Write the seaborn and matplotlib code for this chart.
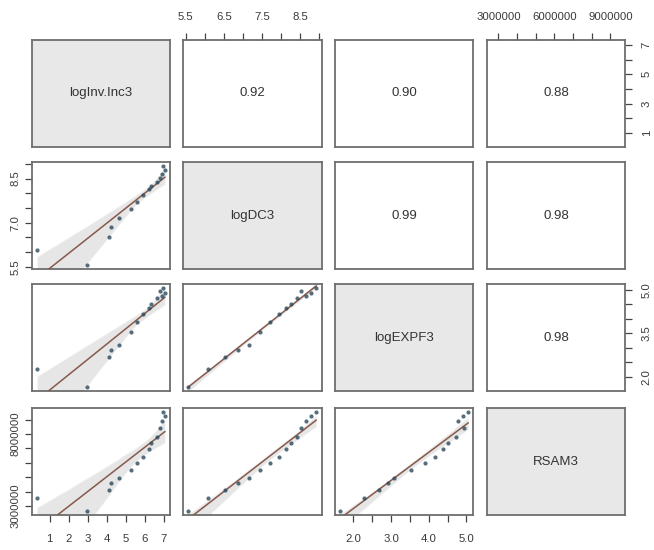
import numpy as np
import pandas as pd
import matplotlib
matplotlib.use("Agg")
import matplotlib.pyplot as plt
from matplotlib.collections import PolyCollection
import seaborn as sns

# ---------------- data ----------------
variables = ["logInv.Inc3", "logDC3", "logEXPF3", "RSAM3"]
log_inv_inc3 = [2.96, 0.33, 4.14, 4.25, 4.63, 5.30, 5.60, 5.89, 6.21, 6.32, 6.67, 6.79, 6.93, 7.07, 6.96]
log_dc3 = [5.56, 6.07, 6.52, 6.87, 7.15, 7.45, 7.71, 7.94, 8.13, 8.26, 8.40, 8.53, 8.66, 8.79, 8.92]
log_expf3 = [1.65, 2.28, 2.68, 2.93, 3.08, 3.53, 3.89, 4.17, 4.37, 4.50, 4.72, 4.94, 4.77, 4.90, 5.05]
rsam3 = [2650000, 3540000, 4110000, 4610000, 4950000, 5470000, 5960000, 6410000,
         6930000, 7410000, 7820000, 8440000, 8940000, 9280000, 9520000]

corr_labels = ["0.92", "0.90", "0.88", "0.99", "0.98", "0.98"]  # upper panels, row-wise

# tick positions and labels for each variable / side
inv_ticks = [1, 2, 3, 4, 5, 6, 7]
inv_bottom_labels = ["1", "2", "3", "4", "5", "6", "7"]
inv_right_labels = ["1", "", "3", "", "5", "", "7"]
dc_ticks = [5.5, 6.0, 6.5, 7.0, 7.5, 8.0, 8.5, 9.0]
dc_top_labels = ["5.5", "", "6.5", "", "7.5", "", "8.5", ""]
dc_left_labels = ["5.5", "", "", "7.0", "", "", "8.5", ""]
expf_ticks = [2.0, 2.5, 3.0, 3.5, 4.0, 4.5, 5.0]
expf_bottom_labels = ["2.0", "", "3.0", "", "4.0", "", "5.0"]
expf_right_labels = ["2.0", "", "", "3.5", "", "", "5.0"]
rsam_ticks = [3000000, 4000000, 5000000, 6000000, 7000000, 8000000, 9000000]
rsam_top_labels = ["3000000", "", "", "6000000", "", "", "9000000"]
rsam_left_labels = ["3000000", "", "", "", "", "8000000", ""]

df = pd.DataFrame({variables[0]: log_inv_inc3, variables[1]: log_dc3,
                   variables[2]: log_expf3, variables[3]: rsam3})

# ---------------- style ----------------
sns.set_style("white")
plt.rcParams["font.family"] = ["Liberation Sans", "DejaVu Sans"]

W, H = 654, 550
fig = plt.figure(figsize=(W / 100, H / 100), dpi=100)
fig.patch.set_facecolor("white")

col_left = [31.7, 183.0, 335.0, 486.7]
row_top = [40.0, 162.3, 284.3, 408.3]
pw, ph = 138.5, 106.7

frame_col = "#6e6e6e"
pt_col = "#2c4a5c"
line_col = "#86594a"
diag_fill = "#e8e8e8"
txt_col = "#333333"

def lims(v):
    lo, hi = min(v), max(v)
    pad = 0.04 * (hi - lo)
    return lo - pad, hi + pad

n = len(variables)
axes = [[None] * n for _ in range(n)]
for i in range(n):
    for j in range(n):
        ax = fig.add_axes([col_left[j] / W, 1 - (row_top[i] + ph) / H, pw / W, ph / H])
        axes[i][j] = ax
        for s in ax.spines.values():
            s.set_color(frame_col)
            s.set_linewidth(1.3)
            s.set_visible(True)

k = 0
for i in range(n):
    for j in range(n):
        ax = axes[i][j]
        xv, yv = variables[j], variables[i]
        if i == j:
            ax.set_facecolor(diag_fill)
            ax.text(0.5, 0.5, variables[i], transform=ax.transAxes, ha="center",
                    va="center", fontsize=9.5, color=txt_col)
        elif i < j:
            ax.text(0.5, 0.5, corr_labels[k], transform=ax.transAxes, ha="center",
                    va="center", fontsize=9.5, color=txt_col)
            k += 1
        else:
            sns.regplot(data=df, x=xv, y=yv, ax=ax, ci=95, n_boot=1000, seed=3,
                        truncate=True,
                        scatter_kws=dict(s=9, color=pt_col, linewidths=0, zorder=4),
                        line_kws=dict(color=line_col, lw=1.1, zorder=3))
            for c in ax.collections:
                if isinstance(c, PolyCollection):
                    c.set_facecolor("#cfcfcf")
                    c.set_alpha(0.5)
                    c.set_zorder(1)
        ax.set_xlim(*lims(df[xv]))
        ax.set_ylim(*lims(df[yv]))
        ax.set_xlabel("")
        ax.set_ylabel("")
        ax.set_xticks([])
        ax.set_yticks([])

tick_kw = dict(length=5, width=0.9, color="#444444", labelcolor="#3a3a3a", labelsize=8.2, direction="out")

# column axes: col0 bottom, col1 top, col2 bottom, col3 top
ax = axes[3][0]
ax.set_xticks(inv_ticks); ax.set_xticklabels(inv_bottom_labels)
ax.tick_params(axis="x", bottom=True, pad=9, **tick_kw)
ax = axes[0][1]
ax.xaxis.set_ticks_position("top")
ax.set_xticks(dc_ticks); ax.set_xticklabels(dc_top_labels)
ax.tick_params(axis="x", top=True, bottom=False, labeltop=True, labelbottom=False, pad=8, **tick_kw)
ax = axes[3][2]
ax.set_xticks(expf_ticks); ax.set_xticklabels(expf_bottom_labels)
ax.tick_params(axis="x", bottom=True, pad=9, **tick_kw)
ax = axes[0][3]
ax.xaxis.set_ticks_position("top")
ax.set_xticks(rsam_ticks); ax.set_xticklabels(rsam_top_labels)
ax.tick_params(axis="x", top=True, bottom=False, labeltop=True, labelbottom=False, pad=8, **tick_kw)

# row axes: row0 right, row1 left, row2 right, row3 left
ax = axes[0][3]
ax.yaxis.set_ticks_position("right")
ax.set_yticks(inv_ticks); ax.set_yticklabels(inv_right_labels, rotation=90, va="center")
ax.tick_params(axis="y", right=True, left=False, labelright=True, labelleft=False, pad=7, **tick_kw)
ax = axes[1][0]
ax.set_yticks(dc_ticks); ax.set_yticklabels(dc_left_labels, rotation=90, va="center")
ax.tick_params(axis="y", left=True, pad=3, **tick_kw)
ax = axes[2][3]
ax.yaxis.set_ticks_position("right")
ax.set_yticks(expf_ticks); ax.set_yticklabels(expf_right_labels, rotation=90, va="center")
ax.tick_params(axis="y", right=True, left=False, labelright=True, labelleft=False, pad=7, **tick_kw)
ax = axes[3][0]
ax.set_yticks(rsam_ticks); ax.set_yticklabels(rsam_left_labels, rotation=90, va="center")
ax.tick_params(axis="y", left=True, pad=3, **tick_kw)

fig.savefig("out.png", dpi=100, facecolor="white")
